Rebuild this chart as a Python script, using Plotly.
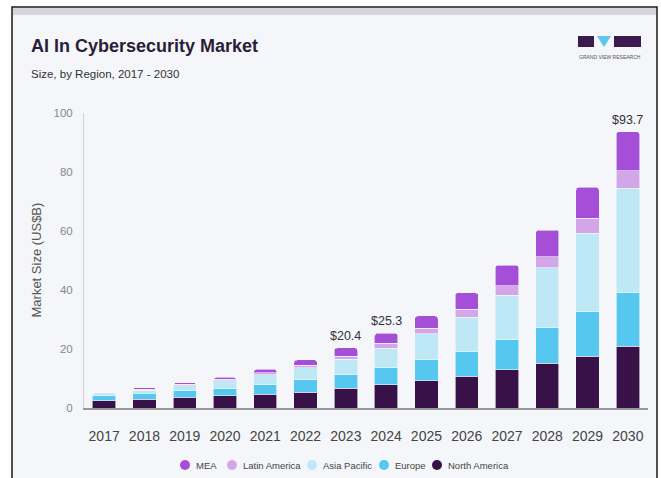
import plotly.graph_objects as go

years = ["2017", "2018", "2019", "2020", "2021", "2022", "2023", "2024", "2025", "2026", "2027", "2028", "2029", "2030"]
north_america = [2.5, 2.9, 3.6, 4.2, 4.7, 5.4, 6.7, 7.8, 9.3, 10.8, 12.9, 15.1, 17.6, 21.0]
europe = [1.6, 2.1, 2.3, 2.5, 3.4, 4.1, 4.5, 5.9, 7.0, 8.5, 10.2, 12.2, 15.0, 18.1]
asia_pacific = [0.7, 1.1, 1.7, 2.5, 3.1, 4.1, 5.3, 6.5, 8.8, 11.4, 15.2, 20.3, 26.6, 35.4]
latin_america = [0.1, 0.3, 0.4, 0.5, 0.8, 0.9, 1.1, 1.7, 1.9, 2.8, 3.2, 3.7, 5.1, 5.9]
mea = [0.1, 0.5, 0.6, 0.7, 1.1, 1.8, 2.8, 3.4, 4.2, 5.6, 6.9, 9.0, 10.5, 13.3]
total_labels = {"2023": 20.4, "2024": 25.3, "2030": 93.7}

series = [
    ("North America", north_america, "#371147"),
    ("Europe", europe, "#56c8ef"),
    ("Asia Pacific", asia_pacific, "#bfe8f7"),
    ("Latin America", latin_america, "#d3a6e9"),
    ("MEA", mea, "#a54fd8"),
]
legend_order = ["MEA", "Latin America", "Asia Pacific", "Europe", "North America"]
legend_x = [185, 232, 312, 384, 437]  # circle centre positions (pixels)

W, H = 661, 478
L, R, T, B = 84, 13, 113, 70
PW, PH = W - L - R, H - T - B

def px(x):
    return (x - L) / PW

def py(y):
    return (H - B - y) / PH

FONT = "Liberation Sans, Arial, sans-serif"

fig = go.Figure()
for name, vals, col in series:
    fig.add_trace(go.Bar(
        x=years, y=vals, name=name,
        marker=dict(color=col, line=dict(color="#f4f6f9", width=0.6)),
        showlegend=False))

shapes = []
shapes.append(dict(type="rect", xref="paper", yref="paper", x0=px(12), x1=px(657), y0=py(7), y1=py(490),
                   fillcolor="#f4f6f9", line=dict(color="#1a1a1a", width=1.5), layer="below"))
shapes.append(dict(type="rect", xref="paper", yref="paper", x0=px(13), x1=px(656), y0=py(8), y1=py(15),
                   fillcolor="#d4d6d9", line=dict(width=0), layer="below"))
# logo
shapes.append(dict(type="rect", xref="paper", yref="paper", x0=px(578), x1=px(594), y0=py(36), y1=py(47),
                   fillcolor="#3a1a4f", line=dict(width=0)))
shapes.append(dict(type="path", xref="paper", yref="paper",
                   path=f"M {px(597)} {py(36)} L {px(611)} {py(36)} L {px(604)} {py(47)} Z",
                   fillcolor="#5cc6ee", line=dict(width=0)))
shapes.append(dict(type="rect", xref="paper", yref="paper", x0=px(614), x1=px(641), y0=py(36), y1=py(47),
                   fillcolor="#3a1a4f", line=dict(width=0)))

annotations = [
    dict(text="<b>AI In Cybersecurity Market</b>", xref="paper", yref="paper", x=px(29), y=py(46),
         xanchor="left", yanchor="middle", showarrow=False,
         font=dict(family=FONT, size=18, color="#2a1d38")),
    dict(text="Size, by Region, 2017 - 2030", xref="paper", yref="paper", x=px(29), y=py(74),
         xanchor="left", yanchor="middle", showarrow=False,
         font=dict(family=FONT, size=11.5, color="#333333")),
    dict(text="GRAND VIEW RESEARCH", xref="paper", yref="paper", x=px(609.5), y=py(57),
         xanchor="center", yanchor="middle", showarrow=False,
         font=dict(family=FONT, size=5, color="#555555")),
    dict(text="Market Size (US$B)", xref="paper", yref="paper", x=px(36), y=0.5,
         xanchor="center", yanchor="middle", showarrow=False, textangle=-90,
         font=dict(family=FONT, size=13, color="#555555")),
]
for yr, val in total_labels.items():
    annotations.append(dict(text=f"${val}", x=years.index(yr), y=val, xref="x", yref="y",
                            yanchor="bottom", showarrow=False, yshift=3,
                            font=dict(family=FONT, size=12.5, color="#333333")))

# legend (round markers)
col_of = {n: c for n, _, c in series}
for name, cx in zip(legend_order, legend_x):
    r = 5
    shapes.append(dict(type="circle", xref="paper", yref="paper",
                       x0=px(cx - r), x1=px(cx + r), y0=py(465 - r), y1=py(465 + r),
                       fillcolor=col_of[name], line=dict(width=0)))
    annotations.append(dict(text=name, xref="paper", yref="paper", x=px(cx + 9), y=py(465),
                            xanchor="left", yanchor="middle", showarrow=False,
                            font=dict(family=FONT, size=9.5, color="#444444")))

fig.update_layout(
    shapes=shapes, annotations=annotations,
    width=W, height=H,
    margin=dict(l=L, r=R, t=T, b=B),
    paper_bgcolor="white", plot_bgcolor="rgba(0,0,0,0)",
    barmode="stack", bargap=0.42, barcornerradius=3,
    font=dict(family=FONT, color="#444444"),
    xaxis=dict(type="category", categoryorder="array", categoryarray=years,
               range=[-0.5, len(years) - 0.5],
               showgrid=False, showline=True, linecolor="#999999", linewidth=1.5,
               ticks="", tickfont=dict(family=FONT, size=14, color="#444444"), ticklabelstandoff=14,
               zeroline=False, fixedrange=True),
    yaxis=dict(range=[0, 100], tickvals=[0, 20, 40, 60, 80, 100], showgrid=False, zeroline=False,
               showline=True, linecolor="#d0d0d0", linewidth=1,
               ticks="", tickfont=dict(family=FONT, size=11.5, color="#888888"), ticklabelstandoff=8,
               fixedrange=True),
    showlegend=False,
)

fig.write_html("out.html")
